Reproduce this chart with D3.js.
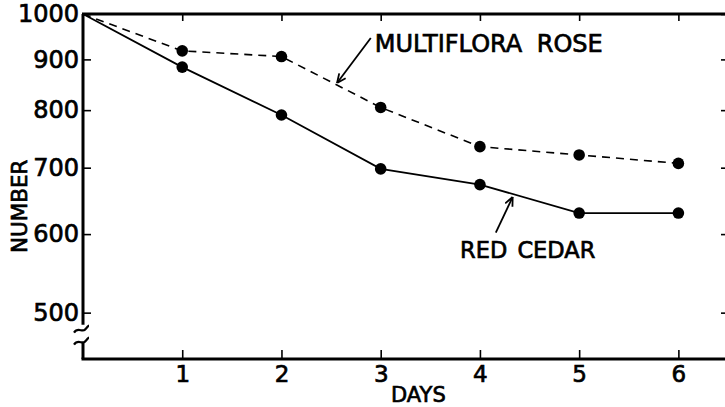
<!DOCTYPE html>
<html>
<head>
<meta charset="utf-8">
<script src="https://cdn.jsdelivr.net/npm/d3@7"></script>
<style>
  body { margin: 0; background: #fff; }
  svg text { font-family: "DejaVu Sans", sans-serif; fill: #000; stroke: #000; stroke-width: 0.7px; }
</style>
</head>
<body>
<div id="wrapper"></div>
<script>
const days = [0, 1, 2, 3, 4, 5, 6]
const multifloraRose = [1000, 918, 906, 805, 735, 721, 707]
const redCedar = [1000, 884, 791, 698, 673, 630, 630]
const yTicks = [1000, 900, 800, 700, 600, 500]
const xTicks = [1, 2, 3, 4, 5, 6]

const width = 725
const height = 407
const margin = { top: 14, right: -3, bottom: 48, left: 83 }

const x = d3.scaleLinear()
  .domain([0, 6.5])
  .range([margin.left, width - margin.right])

const y = d3.scaleLog()
  .domain([449, 1000])
  .range([height - margin.bottom, margin.top])

const svg = d3.select("#wrapper")
  .append("svg")
    .attr("width", width)
    .attr("height", height)

// arrow heads
svg.append("defs").append("marker")
    .attr("id", "arrow")
    .attr("viewBox", "0 0 10 10")
    .attr("refX", 10)
    .attr("refY", 5)
    .attr("markerWidth", 10)
    .attr("markerHeight", 10)
    .attr("markerUnits", "userSpaceOnUse")
    .attr("orient", "auto")
  .append("path")
    .attr("d", "M1,1 L10,5 L1,9")
    .attr("fill", "none")
    .attr("stroke", "#000")
    .attr("stroke-width", 1.8)

const axisStyle = g => {
  g.select(".domain").remove()
  g.selectAll(".tick line").attr("stroke", "#000").attr("stroke-width", 1.6)
  g.selectAll(".tick text").attr("font-size", 24)
}

// left axis (labels)
svg.append("g")
  .attr("transform", `translate(${x(0)},0)`)
  .call(d3.axisLeft(y).tickValues(yTicks).tickFormat(d3.format("d")).tickSize(-8).tickPadding(4))
  .call(axisStyle)

// right axis ticks only
svg.append("g")
  .attr("transform", `translate(${x(6.5)},0)`)
  .call(d3.axisRight(y).tickValues(yTicks).tickFormat("").tickSize(-7))
  .call(axisStyle)

// bottom axis
svg.append("g")
  .attr("transform", `translate(0,${y.range()[0]})`)
  .call(d3.axisBottom(x).tickValues(xTicks).tickFormat(d3.format("d")).tickSize(-9).tickPadding(7))
  .call(axisStyle)
  .call(g => g.selectAll(".tick text").attr("font-size", 23))

// top border ticks
svg.append("g")
  .attr("transform", `translate(0,${y(1000)})`)
  .call(d3.axisTop(x).tickValues(xTicks).tickFormat("").tickSize(-7))
  .call(axisStyle)

// frame lines
const frame = svg.append("g")
  .attr("fill", "none")
  .attr("stroke", "#000")
  .attr("stroke-width", 3)

frame.append("line")
  .attr("x1", x(0) - 1).attr("x2", width)
  .attr("y1", y(1000)).attr("y2", y(1000))
frame.append("line")
  .attr("x1", x(0) - 1.5).attr("x2", width)
  .attr("y1", y.range()[0]).attr("y2", y.range()[0])
frame.append("line")
  .attr("x1", x(0)).attr("x2", x(0))
  .attr("y1", y(1000)).attr("y2", y(500) + 12)
frame.append("line")
  .attr("x1", x(0)).attr("x2", x(0))
  .attr("y1", y(500) + 30).attr("y2", y.range()[0])

// axis break marks
const bx = x(0)
const by = y(500)
frame.append("path")
  .attr("stroke-width", 2.2)
  .attr("d", `M${bx - 9},${by + 20} C${bx - 5},${by + 14} ${bx - 1},${by + 20} ${bx + 2},${by + 17} S${bx + 5},${by + 13} ${bx + 6},${by + 13}`)
frame.append("path")
  .attr("stroke-width", 2.2)
  .attr("d", `M${bx - 9},${by + 32} C${bx - 5},${by + 26} ${bx - 1},${by + 32} ${bx + 2},${by + 29} S${bx + 5},${by + 25} ${bx + 6},${by + 25}`)

// series
const line = d3.line()
  .x((d, i) => x(days[i]))
  .y(d => y(d))

svg.append("path")
  .datum(multifloraRose)
  .attr("d", line)
  .attr("fill", "none")
  .attr("stroke", "#000")
  .attr("stroke-width", 1.6)
  .attr("stroke-dasharray", "8,6")

svg.append("path")
  .datum(redCedar)
  .attr("d", line)
  .attr("fill", "none")
  .attr("stroke", "#000")
  .attr("stroke-width", 1.8)

const dots = (values) => svg.append("g")
  .selectAll("circle")
  .data(values.slice(1))
  .enter().append("circle")
    .attr("cx", (d, i) => x(days[i + 1]))
    .attr("cy", d => y(d))
    .attr("r", 5.8)
    .attr("fill", "#000")

dots(multifloraRose)
dots(redCedar)

// labels
svg.append("text")
  .attr("x", x(2.94))
  .attr("y", y(916))
  .attr("font-size", 24)
  .attr("word-spacing", 7)
  .text("MULTIFLORA ROSE")

svg.append("text")
  .attr("x", x(3.80))
  .attr("y", y(567))
  .attr("font-size", 22.5)
  .attr("word-spacing", 3)
  .text("RED CEDAR")

svg.append("line")
  .attr("x1", x(2.90)).attr("y1", y(946))
  .attr("x2", x(2.56)).attr("y2", y(852))
  .attr("stroke", "#000")
  .attr("stroke-width", 1.8)
  .attr("marker-end", "url(#arrow)")

svg.append("line")
  .attr("x1", x(4.16)).attr("y1", y(602))
  .attr("x2", x(4.33)).attr("y2", y(654))
  .attr("stroke", "#000")
  .attr("stroke-width", 1.8)
  .attr("marker-end", "url(#arrow)")

svg.append("text")
  .attr("x", x(3.38))
  .attr("y", y.range()[0] + 43)
  .attr("text-anchor", "middle")
  .attr("font-size", 21)
  .text("DAYS")

svg.append("text")
  .attr("transform", `translate(27,${y(640)}) rotate(-90)`)
  .attr("text-anchor", "middle")
  .attr("font-size", 21.5)
  .text("NUMBER")
</script>
</body>
</html>
